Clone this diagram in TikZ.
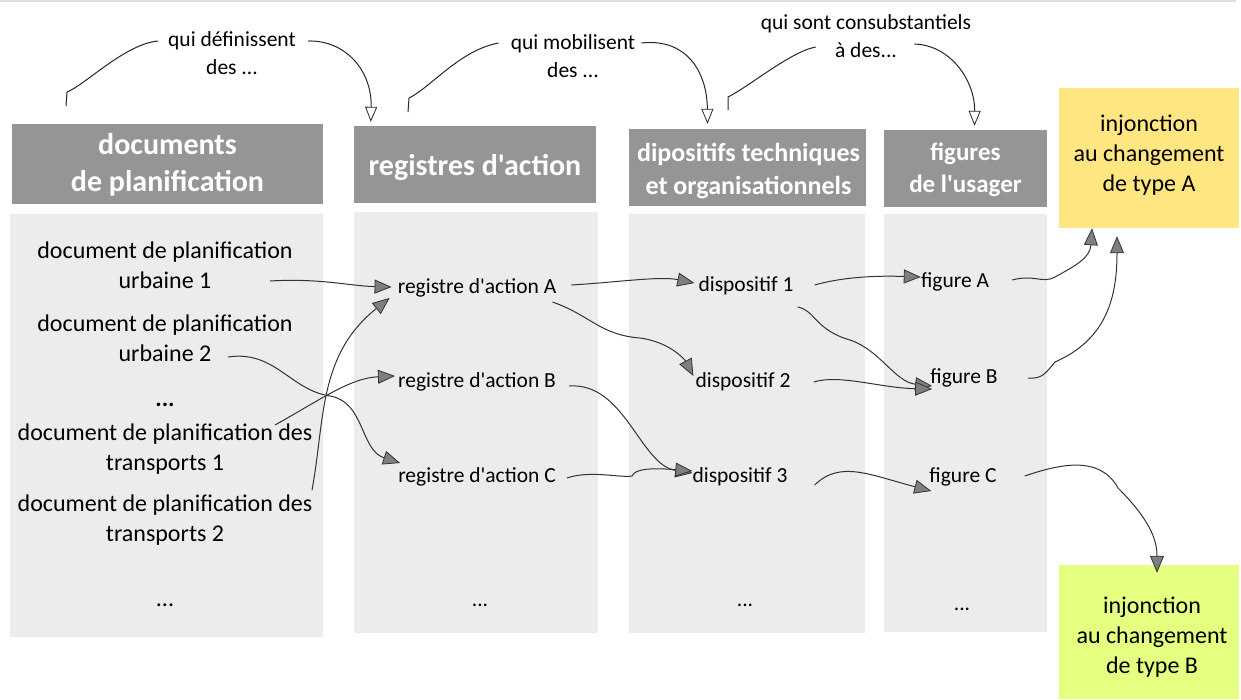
\documentclass[tikz,border=0pt]{standalone}
\usepackage{fontspec}
\setmainfont{Carlito}[Ligatures=TeXOff]
\usetikzlibrary{arrows.meta}
\definecolor{hdrgray}{HTML}{959595}
\definecolor{colgray}{HTML}{ECECEC}
\definecolor{injA}{HTML}{FFE680}
\definecolor{injB}{HTML}{E5FF80}
\definecolor{arrgray}{HTML}{7F7F7F}
\tikzset{
  hdrbox/.style={fill=hdrgray, inner sep=0pt},
  hdr/.style={text=white, font=\bfseries\fontsize{30}{37}\selectfont, align=center, inner sep=0pt},
  colbox/.style={fill=colgray, inner sep=0pt},
  body/.style={font=\fontsize{24}{30}\selectfont, align=center, inner sep=0pt},
  lbl/.style={font=\fontsize{21.5}{28}\selectfont, align=center, inner sep=0pt},
  inj/.style={font=\fontsize{24}{30}\selectfont, align=center, inner sep=0pt},
  conn/.style={draw=black!80, line width=1pt, -{Triangle[length=17pt,width=14pt,fill=arrgray,line width=0.8pt]}},
  rel/.style={draw=black!85, line width=1pt, -{Triangle[open,length=15pt,width=12pt,line width=0.8pt]}},
  plain/.style={draw=black!85, line width=1pt}
}
\begin{document}
\begin{tikzpicture}[x=1pt,y=-1pt]
\useasboundingbox (0,0) rectangle (1241,699);
\draw[gray!25, line width=1.5pt] (0,1) -- (1236,1);
% columns
\node[colbox, minimum width=313, minimum height=423] (c1) at (166.5,425.5) {};
\node[colbox, minimum width=244, minimum height=421] (c2) at (476,422.5) {};
\node[colbox, minimum width=236, minimum height=419] (c3) at (747,423.5) {};
\node[colbox, minimum width=163, minimum height=418] (c4) at (965.5,423) {};
% headers
\node[hdrbox, minimum width=311, minimum height=80] (h1) at (167.5,164) {};
\node[hdr] (h1t) at (167.5,164.5) {documents\\de planification};
\node[hdrbox, minimum width=242, minimum height=77] (h2) at (475,164.5) {};
\node[hdr] (h2t) at (475,167) {registres d'action};
\node[hdrbox, minimum width=237, minimum height=77] (h3) at (747.5,167.5) {};
\node[hdr, font=\bfseries\fontsize{26}{33}\selectfont] (h3t) at (748.5,171) {dipositifs techniques\\et organisationnels};
\node[hdrbox, minimum width=163, minimum height=77] (h4) at (965.5,168.5) {};
\node[hdr, font=\bfseries\fontsize{25}{32}\selectfont] (h4t) at (965.5,170) {figures\\de l'usager};
% injunction boxes
\node[fill=injA, minimum width=180, minimum height=140, inner sep=0pt] (ia) at (1149,158) {};
\node[inj] (iat) at (1149,155) {injonction\\au changement\\de type A};
\node[fill=injB, minimum width=180, minimum height=134, inner sep=0pt] (ib) at (1149,632) {};
\node[inj] (ibt) at (1152,637) {injonction\\au changement\\de type B};
% column 1 texts
\node[body] (du1) at (165,265) {document de planification\\urbaine 1};
\node[body] (du2) at (165,338) {document de planification\\urbaine 2};
\node[body] (dots1) at (165,405) {\textbf{...}};
\node[body] (dt1) at (165,449) {document de planification des\\transports 1};
\node[body] (dt2) at (165,520) {document de planification des\\transports 2};
\node[body] (dots1b) at (165,605) {...};
% column 2
\node[lbl] (ra) at (477,288) {registre d'action A};
\node[lbl] (rb) at (477,382) {registre d'action B};
\node[lbl] (rc) at (477,477) {registre d'action C};
\node[lbl] (dots2) at (480,605) {...};
% column 3
\node[lbl] (d1) at (746,286) {dispositif 1};
\node[lbl] (d2) at (743,382) {dispositif 2};
\node[lbl] (d3) at (740,477) {dispositif 3};
\node[lbl] (dots3) at (745,605) {...};
% column 4
\node[lbl] (fa) at (955,282) {figure A};
\node[lbl] (fb) at (964,378) {figure B};
\node[lbl] (fc) at (963,477) {figure C};
\node[lbl] (dots4) at (962,609) {...};
% top relation labels
\node[lbl] (q1) at (232,53) {qui définissent\\des ...};
\node[lbl] (q2) at (573,56) {qui mobilisent\\des ...};
\node[lbl] (q3) at (866,36) {qui sont consubstantiels\\à des...};
\coordinate (s1) at (66,106);
\coordinate (s2) at (408,112);
\coordinate (s3) at (728,110);
% top connectors
\draw[plain] (s1) -- (67,92) .. controls (85,85) and (125,44) .. ([shift={(-10,-12)}]q1.west);
\draw[rel] ([shift={(12,-12)}]q1.east) .. controls (345,40) and (372,70) .. ([shift={(17,-4)}]h2.north west);
\draw[plain] (s2) -- (409,98) .. controls (430,88) and (460,50) .. ([shift={(-12,-13)}]q2.west);
\draw[rel] ([shift={(6,-13)}]q2.east) .. controls (685,38) and (707,70) .. ([shift={(-40,-5)}]h3.north);
\draw[plain] (s3) -- (728,97) .. controls (750,86) and (790,52) .. ([shift={(55,11)}]q3.west);
\draw[rel] ([shift={(-57,8)}]q3.east) .. controls (950,45) and (975,80) .. ([shift={(9,-4)}]h4.north);
% body connectors
\draw[conn] ([shift={(105,16)}]du1.center) .. controls (320,278) and (350,286) .. ([shift={(-6,-1)}]ra.west);
\draw[conn] ([shift={(63,19)}]du2.center) .. controls (275,350) and (290,390) .. (330,396) .. controls (365,402) and (360,450) .. ([shift={(2,-14)}]rc.west);
\draw[conn] ([shift={(110,-24)}]dt1.center) .. controls (320,400) and (350,378) .. ([shift={(-3,-6)}]rb.west);
\draw[conn] ([shift={(147,-30)}]dt2.center) .. controls (325,420) and (318,355) .. ([shift={(-8,10)}]ra.west);
\draw[conn] ([shift={(15,-3)}]ra.east) .. controls (620,282) and (660,276) .. ([shift={(-4,-3)}]d1.west);
\draw[conn] ([shift={(-4,14)}]ra.east) .. controls (590,315) and (600,335) .. (640,338) .. controls (670,342) and (685,360) .. ([shift={(-2,-6)}]d2.west);
\draw[conn] ([shift={(13,4)}]rb.east) .. controls (625,382) and (640,465) .. ([shift={(0,-4)}]d3.west);
\draw[conn] ([shift={(11,1)}]rc.east) .. controls (590,470) and (620,478) .. (632,476) .. controls (635,468) and (655,468) .. ([shift={(0,-6)}]d3.west);
\draw[conn] ([shift={(21,-1)}]d1.east) .. controls (850,275) and (890,276) .. ([shift={(0,-5)}]fa.west);
\draw[conn] ([shift={(4,21)}]d1.east) .. controls (815,310) and (815,330) .. (850,340) .. controls (880,350) and (895,382) .. ([shift={(2,8)}]fb.west);
\draw[conn] ([shift={(23,0)}]d2.east) .. controls (840,374) and (880,388) .. ([shift={(2,11)}]fb.west);
\draw[conn] ([shift={(27,8)}]d3.east) .. controls (840,460) and (870,475) .. ([shift={(2,14)}]fc.west);
\draw[conn] ([shift={(23,-2)}]fa.east) .. controls (1035,274) and (1042,284) .. (1055,277) .. controls (1075,266) and (1090,258) .. ([shift={(-57,0)}]ia.south);
\draw[conn] ([shift={(30,0)}]fb.east) .. controls (1042,379) and (1045,374) .. (1055,362) .. controls (1105,340) and (1117,300) .. ([shift={(-32,8)}]ia.south);
\draw[conn] ([shift={(28,-1)}]fc.east) .. controls (1060,464) and (1100,455) .. (1118,488) .. controls (1150,520) and (1157,540) .. ([shift={(8,8)}]ib.north);
\end{tikzpicture}
\end{document}
